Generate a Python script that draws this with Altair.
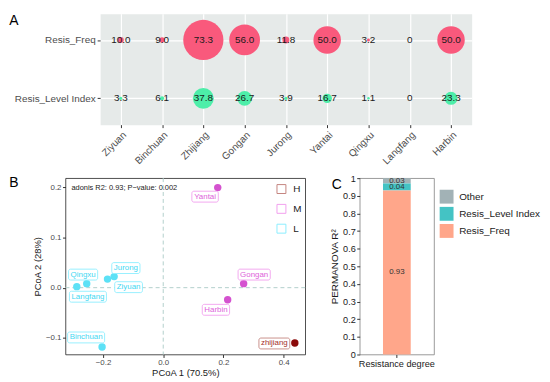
import altair as alt
import pandas as pd

FONT = "Liberation Sans"

# ---------------- Panel A data ----------------
sites = ["Ziyuan", "Binchuan", "Zhijiang", "Gongan", "Jurong", "Yantai", "Qingxu", "Langfang", "Harbin"]
metrics = ["Resis_Freq", "Resis_Level Index"]
resis_freq = [10.0, 9.0, 73.3, 56.0, 11.8, 50.0, 3.2, 0, 50.0]
resis_level = [3.3, 6.1, 37.8, 26.7, 3.9, 16.7, 1.1, 0, 23.3]

# ---------------- Panel B data ----------------
pcoa_sites = ["Yantai", "Gongan", "Harbin", "zhijiang", "Binchuan", "Qingxu", "Langfang", "Jurong", "Ziyuan"]
pcoa_group = ["M", "M", "M", "H", "L", "L", "L", "L", "L"]
pcoa1 = [0.181, 0.267, 0.214, 0.437, -0.203, -0.254, -0.287, -0.163, -0.185]
pcoa2 = [0.199, 0.008, -0.024, -0.110, -0.118, 0.008, 0.002, 0.022, 0.017]
label_x = [0.139, 0.302, 0.175, 0.369, -0.256, -0.266, -0.250, -0.124, -0.115]
label_y = [0.181, 0.026, -0.044, -0.111, -0.099, 0.026, -0.018, 0.039, 0.001]
group_order = ["H", "M", "L"]
adonis_text = "adonis R2: 0.93; P\u2212value: 0.002"

# ---------------- Panel C data ----------------
factors = ["Other", "Resis_Level Index", "Resis_Freq"]
r2_values = [0.03, 0.04, 0.93]
c_category = "Resistance degree"

panel_letters = ["A", "B", "C"]

# ---------------- colours ----------------
bubble_colors = ["#F9597C", "#4DEEA9"]
point_colors = ["#8B0A0A", "#D452CF", "#5CE1F6"]
label_text_colors = ["#A3302B", "#DD62DA", "#3FD8F2"]
label_box_colors = ["#C4857F", "#F2A0EE", "#8CEEFF"]
factor_colors = ["#A2B2B6", "#44C3C4", "#FFA68A"]

INDEP = dict(color="independent", fill="independent", stroke="independent", size="independent")

# ================= Panel A =================
dfA = pd.DataFrame({
    "site": sites + sites,
    "metric": [metrics[0]] * len(sites) + [metrics[1]] * len(sites),
    "value": resis_freq + resis_level,
})
VMAX = max(resis_freq + resis_level)
# Vega symbol size = (diameter)^2 ; diameter grows linearly with value
SIZE_MIN, SIZE_MAX = 6, 1648

xA = alt.X("site:N", sort=sites, title=None,
           scale=alt.Scale(type="point", padding=0.5),
           axis=alt.Axis(labelAngle=-45, labelAlign="right", labelBaseline="top", labelPadding=2,
                         labelFontSize=10, labelColor="#4D4D4D", domain=False, tickColor="#333333",
                         tickSize=3, grid=True, gridColor="white", gridWidth=1.2))
yA = alt.Y("metric:N", sort=metrics, title=None,
           scale=alt.Scale(type="point", padding=0.45),
           axis=alt.Axis(labelFontSize=10, labelColor="#4D4D4D", labelPadding=2, domain=False,
                         tickColor="#333333", tickSize=3, grid=True, gridColor="white", gridWidth=1.2))

baseA = alt.Chart(dfA).encode(x=xA, y=yA)
bubbles = baseA.transform_filter("datum.value > 0").transform_calculate(
    area=f"{SIZE_MIN} + {SIZE_MAX - SIZE_MIN} * pow(datum.value / {VMAX}, 2)"
).mark_circle(opacity=1).encode(
    size=alt.Size("area:Q", scale=None, legend=None),
    color=alt.Color("metric:N", scale=alt.Scale(domain=metrics, range=bubble_colors), legend=None),
)
textA = baseA.transform_calculate(
    lab="datum.value == 0 ? '0' : format(datum.value, '.1f')"
).mark_text(fontSize=10, font=FONT, color="#1A1A1A").encode(text="lab:N")
letterA = alt.Chart(pd.DataFrame({"p": [panel_letters[0]]})).mark_text(
    align="left", baseline="alphabetic", fontSize=14, font=FONT, color="black"
).encode(text="p:N", x=alt.value(-91.7), y=alt.value(11.3))

chartA = alt.layer(bubbles, textA, letterA).properties(
    width=375, height=112, view=alt.ViewBackground(fill="#E6EAE9", stroke="transparent"))

spacer = alt.Chart(pd.DataFrame({"s": [0]})).mark_point(opacity=0).encode(
    x=alt.value(0), y=alt.value(0)
).properties(width=35, height=1, view=alt.ViewBackground(fill="transparent", stroke="transparent"))

rowA = alt.hconcat(spacer, chartA, spacing=0, bounds="flush")

# ================= Panel B =================
char_w = {"B": 667, "G": 778, "H": 722, "J": 500, "L": 556, "Q": 778, "Y": 667, "Z": 611,
          "a": 556, "b": 556, "c": 500, "f": 278, "g": 556, "h": 556, "i": 222, "j": 222,
          "n": 556, "o": 556, "r": 333, "t": 278, "u": 556, "x": 500, "y": 500, "z": 500}


def text_width(s, size):
    return sum(char_w.get(c, 556) for c in s) * size / 1000.0


B_W, B_H = 242, 178
x_dom = [-0.3246, 0.4715]
y_dom = [-0.1329, 0.2178]
px_x = B_W / (x_dom[1] - x_dom[0])
px_y = B_H / (y_dom[1] - y_dom[0])
LABEL_FS = 8

dfB = pd.DataFrame({"site": pcoa_sites, "group": pcoa_group, "pc1": pcoa1, "pc2": pcoa2,
                    "lx": label_x, "ly": label_y})
dfB["bw"] = [text_width(s, LABEL_FS) + 4 for s in pcoa_sites]
dfB["bx1"] = dfB["lx"] - dfB["bw"] / 2 / px_x
dfB["bx2"] = dfB["lx"] + dfB["bw"] / 2 / px_x
dfB["by1"] = dfB["ly"] - 5.5 / px_y
dfB["by2"] = dfB["ly"] + 5.5 / px_y

axB_x = alt.Axis(values=[-0.2, 0.0, 0.2, 0.4], format=".1f", grid=False, domain=False, tickSize=3,
                 tickColor="#333333", labelFontSize=8, labelColor="#4D4D4D", labelPadding=1.5,
                 titleFontSize=9.5, titleColor="#1A1A1A", titlePadding=1)
axB_y = alt.Axis(values=[-0.1, 0.0, 0.1, 0.2], format=".1f", grid=False, domain=False, tickSize=3,
                 tickColor="#333333", labelFontSize=8, labelColor="#4D4D4D", labelPadding=1.5,
                 titleFontSize=9.5, titleColor="#1A1A1A", titlePadding=3)


def xq(field):
    return alt.X(field + ":Q", title="PCoA 1 (70.5%)",
                 scale=alt.Scale(domain=x_dom, nice=False, zero=False), axis=axB_x)


def yq(field):
    return alt.Y(field + ":Q", title="PCoA 2 (28%)",
                 scale=alt.Scale(domain=y_dom, nice=False, zero=False), axis=axB_y)


zero_df = pd.DataFrame({"z": [0.0]})
vline = alt.Chart(zero_df).mark_rule(strokeDash=[4, 3], color="#B2CFCB", strokeWidth=1).encode(x=xq("z"))
hline = alt.Chart(zero_df).mark_rule(strokeDash=[4, 3], color="#B2CFCB", strokeWidth=1).encode(y=yq("z"))

pointsB = alt.Chart(dfB).mark_circle(size=56, opacity=1).encode(
    x=xq("pc1"), y=yq("pc2"),
    color=alt.Color("group:N", scale=alt.Scale(domain=group_order, range=point_colors), legend=None),
)
boxesB = alt.Chart(dfB).mark_rect(fill="white", strokeWidth=0.9, cornerRadius=2).encode(
    x=xq("bx1"), x2="bx2:Q", y=yq("by1"), y2="by2:Q",
    stroke=alt.Stroke("group:N", scale=alt.Scale(domain=group_order, range=label_box_colors),
                      legend=alt.Legend(title=None, orient="none", legendX=213, legendY=6,
                                        symbolType="square", symbolSize=81, symbolFillColor="white",
                                        symbolStrokeWidth=1, labelFontSize=10, labelFont=FONT,
                                        labelColor="#1A1A1A", rowPadding=6, labelOffset=7, padding=0)),
)
labelsB = alt.Chart(dfB).mark_text(fontSize=LABEL_FS, font=FONT, baseline="middle").encode(
    x=xq("lx"), y=yq("ly"), text="site:N",
    fill=alt.Fill("group:N", scale=alt.Scale(domain=group_order, range=label_text_colors), legend=None),
)
adonisB = alt.Chart(pd.DataFrame({"t": [adonis_text]})).mark_text(
    align="left", baseline="middle", fontSize=7.5, font=FONT, color="#1A1A1A"
).encode(text="t:N", x=alt.value(6), y=alt.value(10))
letterB = alt.Chart(pd.DataFrame({"p": [panel_letters[1]]})).mark_text(
    align="left", baseline="alphabetic", fontSize=14, font=FONT, color="black"
).encode(text="p:N", x=alt.value(-56.7), y=alt.value(9))

chartB = alt.layer(vline, hline, pointsB, boxesB, labelsB, adonisB, letterB).resolve_scale(
    **INDEP
).properties(width=B_W, height=B_H, view=alt.ViewBackground(fill="white", stroke="#222222", strokeWidth=0.8))

# ================= Panel C =================
dfC = pd.DataFrame({
    "factor": factors,
    "r2": r2_values,
    "deg": [c_category] * len(factors),
    "ord": [len(factors) - 1 - i for i in range(len(factors))],
})

axC_y = alt.Axis(values=[round(i / 10, 1) for i in range(11)], format="~g", grid=False, domain=False,
                 tickSize=3, tickColor="#333333", labelFontSize=9.2, labelColor="#1A1A1A",
                 labelPadding=1.5, titleFontSize=10, titleColor="#1A1A1A", titlePadding=3)
xC = alt.X("deg:N", title=None,
           axis=alt.Axis(labelAngle=0, labelFontSize=9.2, labelColor="#1A1A1A", tickSize=3,
                         tickColor="#333333", domain=False, labelPadding=2))
scC = alt.Scale(domain=[0, 1], nice=False, zero=True)

barC = alt.Chart(dfC).mark_bar(size=28).encode(
    x=xC,
    y=alt.Y("r2:Q", stack="zero", title="PERMANOVA R\u00b2", scale=scC, axis=axC_y),
    color=alt.Color("factor:N", scale=alt.Scale(domain=factors, range=factor_colors),
                    legend=alt.Legend(title=None, orient="none", legendX=80.7, legendY=11.7,
                                      symbolType="square", symbolSize=196, symbolStrokeWidth=0,
                                      labelFontSize=10, labelFont=FONT, labelColor="#1A1A1A",
                                      rowPadding=3.3, labelOffset=5.7, padding=0)),
    order=alt.Order("ord:Q", sort="ascending"),
)
textC = alt.Chart(dfC).transform_stack(
    stack="r2", groupby=["deg"], as_=["y0", "y1"], sort=[alt.SortField("ord", order="ascending")]
).transform_calculate(
    mid="(datum.y0 + datum.y1) / 2", lab="format(datum.r2, '.2f')"
).mark_text(fontSize=8, font=FONT, color="#333333", baseline="middle").encode(
    x=xC, y=alt.Y("mid:Q", title="PERMANOVA R\u00b2", scale=scC, axis=axC_y), text="lab:N")
letterC = alt.Chart(pd.DataFrame({"p": [panel_letters[2]]})).mark_text(
    align="left", baseline="alphabetic", fontSize=14, font=FONT, color="black"
).encode(text="p:N", x=alt.value(-28.3), y=alt.value(11))

chartC = alt.layer(barC, textC, letterC).properties(
    width=75, height=B_H, view=alt.ViewBackground(fill="white", stroke="#808080", strokeWidth=0.8))

rowB = alt.hconcat(chartB, chartC, spacing=55, bounds="flush").resolve_scale(**INDEP).resolve_legend(
    color="independent", stroke="independent")
final = alt.vconcat(rowA, rowB, spacing=6).resolve_scale(**INDEP).resolve_legend(
    color="independent", stroke="independent"
).properties(
    padding={"left": 0, "top": 0, "right": 0, "bottom": 0}
).configure(font=FONT).configure_axis(
    labelFont=FONT, titleFont=FONT, titleFontWeight="normal"
).configure_legend(labelFont=FONT)

final.save("out.html", embed_options={"renderer": "svg", "actions": False})
